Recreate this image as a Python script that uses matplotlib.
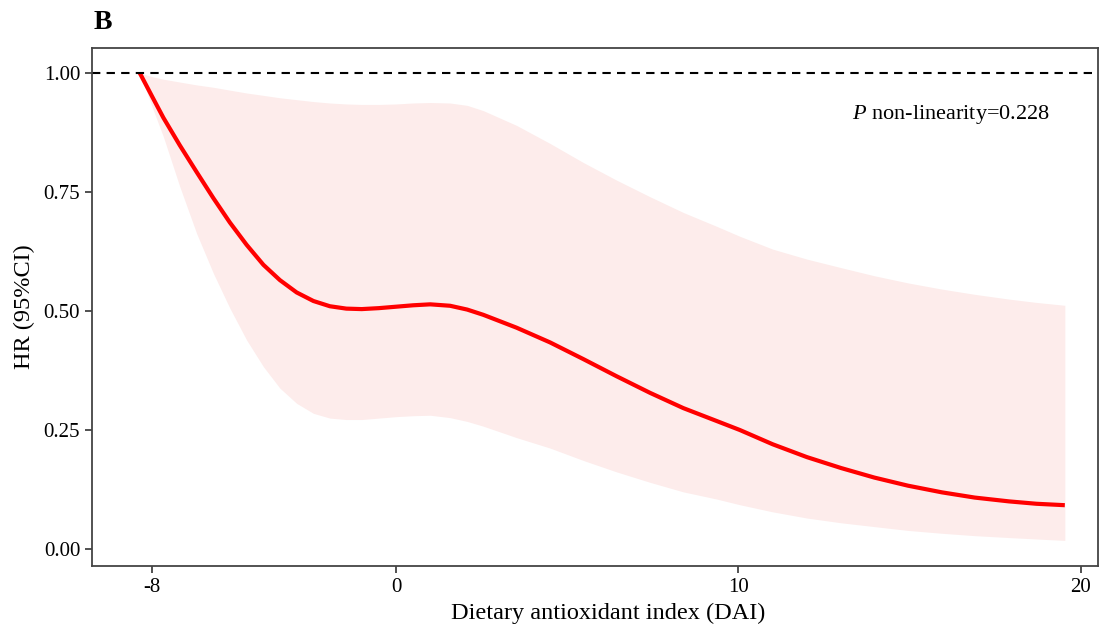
import matplotlib
matplotlib.use("Agg")
import matplotlib.pyplot as plt

plt.rcParams['font.family'] = ['Liberation Serif', 'DejaVu Serif']
plt.rcParams['mathtext.fontset'] = 'custom'
plt.rcParams['mathtext.rm'] = 'Liberation Serif'
plt.rcParams['mathtext.it'] = 'Liberation Serif:italic'

# Data
dai = [-7.48, -7.1, -6.79, -6.31, -5.82, -5.33, -4.85, -4.36, -3.87, -3.39,
       -2.90, -2.41, -1.93, -1.45, -1.0, -0.5, 0.0, 0.5, 1.0, 1.58,
       2.08, 2.55, 3.52, 4.5, 5.47, 6.44, 7.42, 8.39, 9.36, 10.04,
       11.0, 12.0, 13.0, 13.97, 14.95, 15.94, 16.9, 17.9, 18.7, 19.53]
hr = [1.000, 0.948, 0.906, 0.848, 0.792, 0.737, 0.686, 0.639, 0.597, 0.565,
      0.539, 0.521, 0.510, 0.505, 0.504, 0.506, 0.509, 0.512, 0.514, 0.511,
      0.503, 0.492, 0.465, 0.434, 0.399, 0.363, 0.328, 0.296, 0.269, 0.250,
      0.220, 0.193, 0.170, 0.150, 0.133, 0.119, 0.108, 0.100, 0.095, 0.092]
hr_upper = [1.000, 0.992, 0.987, 0.981, 0.975, 0.970, 0.964, 0.958, 0.953, 0.948,
            0.944, 0.940, 0.937, 0.935, 0.934, 0.934, 0.935, 0.937, 0.938, 0.937,
            0.932, 0.921, 0.890, 0.852, 0.812, 0.775, 0.740, 0.707, 0.678, 0.657,
            0.630, 0.609, 0.591, 0.574, 0.559, 0.546, 0.535, 0.525, 0.518, 0.512]
hr_lower = [1.000, 0.925, 0.866, 0.761, 0.663, 0.579, 0.506, 0.439, 0.383, 0.338,
            0.306, 0.285, 0.275, 0.272, 0.272, 0.275, 0.278, 0.280, 0.281, 0.276,
            0.268, 0.258, 0.234, 0.212, 0.186, 0.162, 0.140, 0.120, 0.105, 0.093,
            0.078, 0.065, 0.055, 0.047, 0.039, 0.033, 0.028, 0.024, 0.021, 0.018]

xtick_pos = [-7.12, 0, 10, 20]
xtick_labels = ["-8", "0", "10", "20"]
ytick_pos = [0.0, 0.25, 0.5, 0.75, 1.0]
ytick_labels = ["0.00", "0.25", "0.50", "0.75", "1.00"]

fig = plt.figure(figsize=(11.04, 6.37), dpi=100)
ax = fig.add_axes([0.0833, 0.1115, 0.9113, 0.8131])

ax.fill_between(dai, hr_lower, hr_upper, color='#fdeceb', linewidth=0)
ax.plot(dai, hr, color='#ff0000', linewidth=3.0, solid_capstyle='butt',
        solid_joinstyle='round')
ax.axhline(1.0, color='black', linestyle=(0, (4, 3)), linewidth=1.5)

ax.set_xlim(-8.876, 20.5)
ax.set_ylim(-0.0357, 1.0525)
ax.set_xticks(xtick_pos)
ax.set_xticklabels(xtick_labels)
ax.set_yticks(ytick_pos)
ax.set_yticklabels(ytick_labels)
ax.tick_params(axis='both', direction='out', length=5, width=1.2, color='#333333',
               labelsize=15, labelcolor='black')
for sp in ax.spines.values():
    sp.set_color('#444444')
    sp.set_linewidth(1.3)

ax.set_xlabel("Dietary antioxidant index (DAI)", fontsize=17.5, labelpad=6)
ax.xaxis.set_label_coords(0.513, -0.072)
ax.set_ylabel("HR (95%CI)", fontsize=17.5, labelpad=6)

ax.text(19.1, 0.912, r"$\it{P}$ non-linearity=0.228", ha='right', va='center', fontsize=16)
fig.text(0.085, 0.965, "B", fontsize=20, fontweight='bold', ha='left', va='center')

fig.savefig("out.png", dpi=100)
